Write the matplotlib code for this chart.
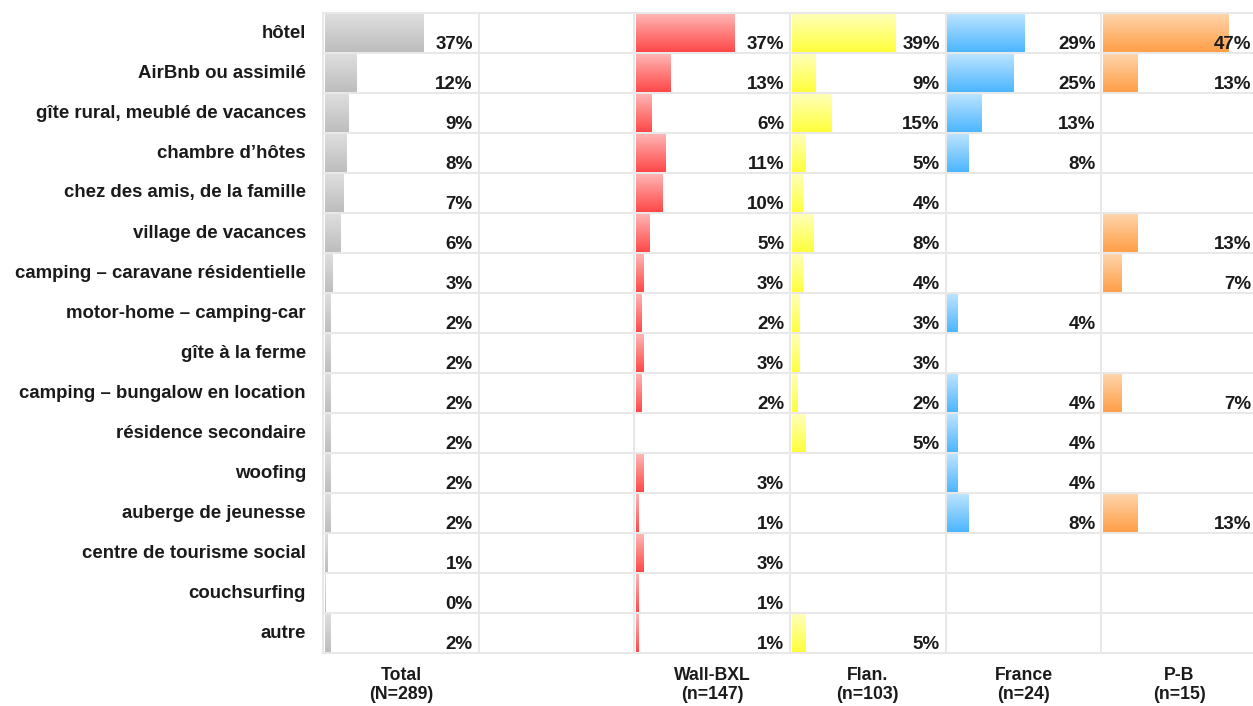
import numpy as np
import matplotlib
matplotlib.use("Agg")
import matplotlib.pyplot as plt
from matplotlib.colors import to_rgba

plt.rcParams["font.family"] = ["Liberation Sans", "DejaVu Sans"]

categories = [
    "hôtel", "AirBnb ou assimilé", "gîte rural, meublé de vacances",
    "chambre d’hôtes", "chez des amis, de la famille", "village de vacances",
    "camping – caravane résidentielle", "motor-home – camping-car",
    "gîte à la ferme", "camping – bungalow en location",
    "résidence secondaire", "woofing", "auberge de jeunesse",
    "centre de tourisme social", "couchsurfing", "autre",
]

total = [37, 12, 9, 8, 7, 6, 3, 2, 2, 2, 2, 2, 2, 1, 0.3, 2]
wall_bxl = [37, 13, 6, 11, 10, 5, 3, 2, 3, 2, None, 3, 1, 3, 1, 1]
flan = [39, 9, 15, 5, 4, 8, 4, 3, 3, 2, 5, None, None, None, None, 5]
france = [29, 25, 13, 8, None, None, None, 4, None, 4, 4, 4, 8, None, None, None]
pays_bas = [47, 13, None, None, None, 13, 7, None, None, 7, None, None, 13, None, None, None]

total_labels = [37, 12, 9, 8, 7, 6, 3, 2, 2, 2, 2, 2, 2, 1, 0, 2]

headers = ["Total\n(N=289)", "", "Wall-BXL\n(n=147)", "Flan.\n(n=103)",
           "France\n(n=24)", "P-B\n(n=15)"]

# (values, labels, column slot, top colour, bottom colour)
series = [
    (total, total_labels, 0, "#dedede", "#bdbdbd"),
    (wall_bxl, wall_bxl, 2, "#ffb4b4", "#ff4848"),
    (flan, flan, 3, "#ffffb8", "#ffff3c"),
    (france, france, 4, "#bae3ff", "#4cb6ff"),
    (pays_bas, pays_bas, 5, "#ffd4ab", "#ff9f48"),
]

W = 58.5          # width of one column, in percent units
n = len(categories)

fig = plt.figure(figsize=(12.53, 7.06), dpi=100)
ax = fig.add_axes([323 / 1253, 1 - 653 / 706, 934 / 1253, 640 / 706])
ax.axis("off")

# grid
for k in range(n + 1):
    ax.axhline(k - 0.5, color="#e8e8e8", lw=1.5, zorder=0, clip_on=False)
for c in range(7):
    ax.axvline(c * W, color="#e8e8e8", lw=1.5, zorder=0, clip_on=False)

h = 0.95
grad = np.linspace(0, 1, 64)[:, None, None]
for vals, labels, slot, c_top, c_bot in series:
    top = np.array(to_rgba(c_top))
    bot = np.array(to_rgba(c_bot))
    img = top * (1 - grad) + bot * grad
    for i, v in enumerate(vals):
        if v is None:
            continue
        left = slot * W + 0.6
        bars = ax.barh(i, v, left=left, height=h, color=c_bot, lw=0, zorder=1)
        im = ax.imshow(img, extent=(left, left + v, i + h / 2, i - h / 2),
                       aspect="auto", zorder=2, interpolation="bilinear")
        im.set_clip_path(bars.patches[0])
        ax.text((slot + 1) * W - 2.2, i + 0.28, f"{labels[i]}%",
                ha="right", va="center", fontsize=13.5, fontweight="bold",
                color="#1a1a1a", zorder=3, clip_on=False)

ax.set_xlim(0, 6 * W)
ax.set_ylim(n - 0.5, -0.5)

for i, cat in enumerate(categories):
    ax.text(-6.4, i, cat, ha="right", va="center", fontsize=13.4,
            fontweight="bold", color="#1a1a1a", clip_on=False)

for c, head in enumerate(headers):
    if not head:
        continue
    ax.text(c * W + W / 2, n - 0.5 + 0.36, head, ha="center", va="top",
            fontsize=12.7, fontweight="bold", color="#1a1a1a",
            linespacing=1.1, clip_on=False)

fig.savefig("out.png", dpi=100)
